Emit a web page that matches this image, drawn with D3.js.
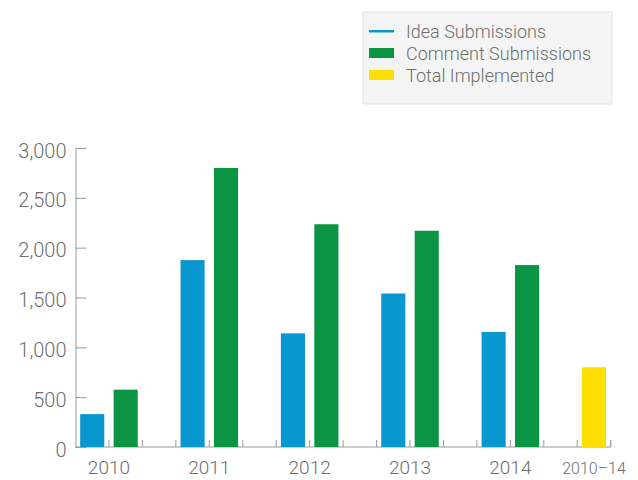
<!DOCTYPE html>
<html>
<head>
<meta charset="utf-8">
<script src="https://cdn.jsdelivr.net/npm/d3@7"></script>
<style>
  body { margin: 0; background: #fff; }
  svg text { font-family: Roboto, "Liberation Sans", Arial, sans-serif; font-weight: 300; fill: #6e6e6e; }
</style>
</head>
<body>
<div id="chart"></div>
<script>
// data
var groups = ["2010", "2011", "2012", "2013", "2014", "2010\u201314"];
var ideaSubmissions = [330, 1875, 1140, 1540, 1155];
var commentSubmissions = [575, 2800, 2235, 2170, 1825];
var totalImplemented = [800];
var yTicks = [0, 500, 1000, 1500, 2000, 2500, 3000];
var legendLabels = ["Idea Submissions", "Comment Submissions", "Total Implemented"];
var colors = { idea: "#0897cf", comment: "#0b9444", total: "#fedd00" };

var width = 638, height = 480;
var padding = { top: 148, left: 75.5, bottom: 447 };
var slot = 33.45; // one bar slot
var axisEnd = padding.left + 16 * slot;

var svg = d3.select("#chart").append("svg")
    .attr("width", width)
    .attr("height", height);

var yScale = d3.scaleLinear()
    .domain([0, 3000])
    .range([padding.bottom, padding.top]);

var x0 = d3.scaleBand()
    .domain(groups)
    .range([padding.left, padding.left + groups.length * 3 * slot]);

var x1 = d3.scaleBand()
    .domain(["idea", "comment", "spare"])
    .range([0, x0.bandwidth()])
    .paddingInner(0.28)
    .paddingOuter(0.14);

// y axis
var yAxis = d3.axisLeft(yScale)
    .tickValues(yTicks)
    .tickFormat(d3.format(","))
    .tickSizeInner(-11)
    .tickSizeOuter(0)
    .tickPadding(9);

var gy = svg.append("g")
    .attr("transform", "translate(" + padding.left + ",0)")
    .call(yAxis);
gy.select(".domain").attr("stroke", "#9a9a9a");
gy.selectAll(".tick line").attr("stroke", "#9a9a9a");
gy.selectAll(".tick text")
    .style("font-size", "20px")
    .attr("dy", "0.45em")
    .attr("fill", "#6e6e6e");

// x axis line and small upward ticks at slot edges
svg.append("line")
    .attr("x1", padding.left).attr("x2", axisEnd)
    .attr("y1", padding.bottom).attr("y2", padding.bottom)
    .attr("stroke", "#9a9a9a");

var tickPos = [];
groups.forEach(function (g) {
    for (var k = 0; k < 3; k++) {
        var p = x0(g) + k * x1.step();
        if (p > padding.left + 1 && p <= axisEnd + 1) tickPos.push(p);
    }
});
tickPos.push(axisEnd);

svg.append("g").selectAll("line")
    .data(tickPos)
    .enter().append("line")
    .attr("x1", function (d) { return d; })
    .attr("x2", function (d) { return d; })
    .attr("y1", padding.bottom)
    .attr("y2", padding.bottom - 7)
    .attr("stroke", "#9a9a9a");

// bars
var bars = svg.append("g");
bars.selectAll(".idea")
    .data(ideaSubmissions)
    .enter().append("rect")
    .attr("class", "idea")
    .attr("x", function (d, i) { return x0(groups[i]) + x1("idea"); })
    .attr("y", function (d) { return yScale(d); })
    .attr("width", x1.bandwidth())
    .attr("height", function (d) { return padding.bottom - yScale(d); })
    .attr("fill", colors.idea);

bars.selectAll(".comment")
    .data(commentSubmissions)
    .enter().append("rect")
    .attr("class", "comment")
    .attr("x", function (d, i) { return x0(groups[i]) + x1("comment"); })
    .attr("y", function (d) { return yScale(d); })
    .attr("width", x1.bandwidth())
    .attr("height", function (d) { return padding.bottom - yScale(d); })
    .attr("fill", colors.comment);

bars.selectAll(".total")
    .data(totalImplemented)
    .enter().append("rect")
    .attr("class", "total")
    .attr("x", function () { return x0(groups[groups.length - 1]) + x1("idea"); })
    .attr("y", function (d) { return yScale(d); })
    .attr("width", x1.bandwidth())
    .attr("height", function (d) { return padding.bottom - yScale(d); })
    .attr("fill", colors.total);

// category labels
svg.append("g").selectAll("text")
    .data(groups)
    .enter().append("text")
    .attr("x", function (d, i) {
        if (i < commentSubmissions.length) return x0(d) + x1.step();
        return x0(d) + x1.step() / 2;
    })
    .attr("y", 474)
    .attr("text-anchor", "middle")
    .style("font-size", function (d, i) { return i < commentSubmissions.length ? "19px" : "16px"; })
    .text(function (d) { return d; });

// legend
var legend = svg.append("g");
legend.append("rect")
    .attr("x", 363).attr("y", 12)
    .attr("width", 249).attr("height", 92)
    .attr("fill", "#f4f4f4")
    .attr("stroke", "#e4e4e4");

var legendKeys = ["idea", "comment", "total"];
var rows = legend.selectAll(".row")
    .data(legendKeys)
    .enter().append("g")
    .attr("transform", function (d, i) { return "translate(369," + (31 + i * 22) + ")"; });

rows.each(function (d) {
    var row = d3.select(this);
    if (d === "idea") {
        row.append("rect")
            .attr("x", 0).attr("y", -1)
            .attr("width", 25).attr("height", 2.5)
            .attr("fill", colors.idea);
    } else {
        row.append("rect")
            .attr("x", 0).attr("y", -5)
            .attr("width", 25).attr("height", 10)
            .attr("fill", colors[d]);
    }
});

rows.append("text")
    .attr("x", 37)
    .attr("y", 7)
    .style("font-size", "18px")
    .text(function (d, i) { return legendLabels[i]; });
</script>
</body>
</html>
